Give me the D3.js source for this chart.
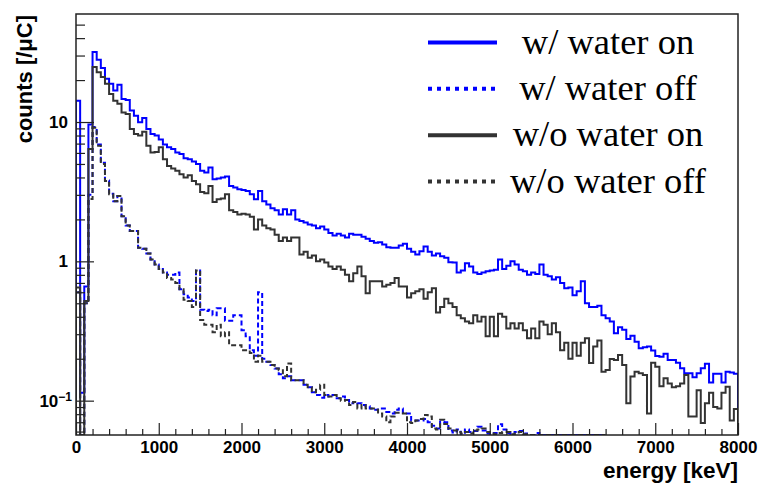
<!DOCTYPE html>
<html><head><meta charset="utf-8">
<script src="https://cdn.jsdelivr.net/npm/d3@7"></script>
<style>body{margin:0;background:#fff}svg{display:block}</style>
</head><body><svg id="c" width="758" height="484"></svg>
<script>
// ---- data (counts per uC, 50 keV bins starting at 0 keV) ----
const binWidth = 50;
const wOn = [14.2,0.114,0.66,9.6,31.8,28,24.4,20.4,18.8,16.8,18.5,14.6,14.4,12.1,11.1,9.95,10.7,8.9,8.2,8.0,
7.5,6.9,6.6,6.4,6.05,5.9,5.5,5.4,5.2,5.0,4.46,4.34,4.72,3.88,3.93,4.0,4.07,3.48,3.39,3.29,
3.25,3.2,3.03,2.79,3.2,2.7,2.56,2.4,2.33,2.17,2.37,2.17,2.33,2.0,1.95,1.9,1.84,1.81,1.73,1.78,
1.69,1.6,1.53,1.58,1.53,1.48,1.58,1.55,1.55,1.5,1.45,1.4,1.36,1.37,1.32,1.26,1.25,1.25,1.3,1.34,
1.23,1.17,1.12,1.18,1.28,1.17,1.1,1.14,1.09,1.06,0.985,0.98,0.83,0.86,0.97,0.92,0.83,0.81,0.83,0.85,
0.86,0.87,1.03,0.88,0.93,1.0,0.95,0.87,0.85,0.8,0.83,0.81,0.95,0.8,0.78,0.74,0.77,0.7,0.64,0.65,
0.57,0.61,0.72,0.5,0.47,0.47,0.48,0.41,0.39,0.37,0.305,0.337,0.323,0.277,0.292,0.265,0.238,0.242,0.245,0.229,
0.209,0.207,0.217,0.196,0.196,0.187,0.171,0.157,0.157,0.147,0.157,0.171,0.184,0.135,0.156,0.156,0.135,0.161,0.159,0.156];
const wOff = [0.6,0.04,0.5,3.0,9.2,6.9,5.1,3.8,3.05,2.7,2.95,2.11,1.81,1.65,1.65,1.25,1.23,1.14,1.03,0.95,
0.88,0.83,0.8,0.8,0.83,0.63,0.58,0.55,0.52,0.86,0.45,0.44,0.45,0.41,0.46,0.46,0.375,0.375,0.41,0.41,
0.32,0.29,0.23,0.21,0.6,0.2,0.19,0.18,0.17,0.155,0.145,0.15,0.14,0.14,0.14,0.13,0.125,0.115,0.11,0.105,
0.11,0.107,0.11,0.104,0.107,0.101,0.096,0.098,0.096,0.093,0.091,0.088,0.086,0.088,0.088,0.083,0.081,0.086,0.088,0.081,
0.081,0.072,0.072,0.072,0.074,0.07,0.066,0.063,0.071,0.07,0.061,0.059,0.062,0.0575,0.062,0.0597,0.0606,0.065,0.0612,0.0581,
0.0575,0.0587,0.0678,0.062,0.0587,0.0575,0.0597,0.0606,0.0581,0.05,0.05,0.0587,0.05,0.05,0.05,0.05,0.05,0.05,0.05,0.05,
0.05,0.05,0.05,0.05,0.05,0.05,0.05,0.05];
const woOn = [0.65,0.04,0.52,6.4,24.8,22.8,21,18.8,15.9,14.2,13.5,11.7,11.4,8.9,8.2,8.0,8.5,6.75,6.05,6.1,
6.6,5.4,4.84,4.63,4.46,4.22,4.0,4.15,3.78,3.57,3.15,3.08,3.48,2.67,2.79,2.82,3.03,2.33,2.26,2.17,
2.2,2.17,2.09,1.69,2.0,1.81,1.73,1.69,1.55,1.4,1.48,1.4,1.48,1.48,1.12,1.17,1.06,1.1,1.0,1.03,
0.98,0.92,0.88,0.92,0.87,0.8,0.72,0.82,0.92,0.78,0.59,0.72,0.72,0.72,0.66,0.68,0.7,0.76,0.66,0.66,
0.55,0.59,0.61,0.63,0.54,0.6,0.64,0.43,0.47,0.54,0.5,0.47,0.41,0.39,0.37,0.36,0.41,0.37,0.4,0.29,
0.4,0.29,0.42,0.4,0.33,0.36,0.33,0.36,0.32,0.28,0.33,0.28,0.37,0.35,0.3,0.36,0.31,0.23,0.26,0.2,
0.26,0.21,0.26,0.28,0.186,0.245,0.27,0.161,0.166,0.199,0.196,0.213,0.18,0.096,0.149,0.161,0.157,0.153,0.081,0.187,
0.175,0.127,0.145,0.133,0.125,0.127,0.133,0.153,0.077,0.077,0.119,0.069,0.096,0.114,0.09,0.088,0.114,0.126,0.072,0.087];
const woOff = [0.6,0.04,0.5,2.8,9.1,6.75,5.0,3.78,3.03,2.7,2.95,2.11,1.81,1.65,1.65,1.25,1.23,1.14,1.03,0.95,
0.88,0.83,0.76,0.74,0.7,0.63,0.53,0.52,0.47,0.86,0.38,0.35,0.35,0.31,0.35,0.29,0.31,0.25,0.25,0.25,
0.23,0.23,0.22,0.19,0.21,0.19,0.19,0.18,0.17,0.165,0.15,0.185,0.14,0.14,0.14,0.13,0.125,0.115,0.12,0.13,
0.11,0.107,0.11,0.104,0.1,0.101,0.093,0.098,0.088,0.093,0.088,0.088,0.086,0.081,0.077,0.07,0.077,0.082,0.082,0.081,
0.07,0.069,0.072,0.074,0.079,0.077,0.063,0.062,0.073,0.068,0.063,0.0612,0.0597,0.0581,0.0597,0.0581,0.0612,0.062,0.063,0.0597,
0.0581,0.0575,0.0587,0.0597,0.0597,0.0575,0.0581,0.0597,0.0575,0.05,0.05,0.05,0.05,0.05,0.05,0.05,0.05,0.05,0.05,0.05,
0.05,0.05,0.05,0.05,0.05,0.05,0.05,0.05];

const xMajorTicks = [0,1000,2000,3000,4000,5000,6000,7000,8000];
const xMinorStep = 200;
const yMajorTicks = [0.1,1,10];
const yTickLabels = [["10","\u22121"],["1",""],["10",""]];
const legendLabels = ["w/ water on","w/ water off","w/o water on","w/o water off"];
const xTitle = "energy [keV]";
const yTitle = "counts [/\u03BCC]";

// ---- layout ----
const svg = d3.select("#c");
const F = {l:76, r:738, t:14, b:435};
const x = d3.scaleLinear().domain([0,8000]).range([F.l,F.r]);
const y = d3.scaleLog().domain([0.0567,59.6]).range([F.b,F.t]).clamp(true);
const BLUE = "#0000ff", GRAY = "#333333";
const series = [
  {vals:wOn, color:BLUE, dash:null},
  {vals:wOff, color:BLUE, dash:"5,3"},
  {vals:woOn, color:GRAY, dash:null},
  {vals:woOff, color:GRAY, dash:"5,3"}
];

svg.append("defs").append("clipPath").attr("id","clip")
  .append("rect").attr("x",F.l).attr("y",F.t).attr("width",F.r-F.l).attr("height",F.b-F.t);

function stepPath(vals){
  let p = "M"+x(0)+","+y.range()[0];
  vals.forEach((v,i)=>{
    const yy = y(v);
    p += "L"+x(i*binWidth)+","+yy+"L"+x((i+1)*binWidth)+","+yy;
  });
  p += "L"+x(vals.length*binWidth)+","+y.range()[0];
  return p;
}

const g = svg.append("g").attr("clip-path","url(#clip)");
series.forEach(s=>{
  g.append("path").attr("d",stepPath(s.vals)).attr("fill","none")
   .attr("stroke",s.color).attr("stroke-width",2)
   .attr("stroke-dasharray",s.dash).attr("stroke-linejoin","miter");
});

// axes
const fontAx = "'Liberation Sans', Arial, Helvetica, sans-serif";
const xMinor = d3.range(0,8001,xMinorStep).filter(v=>v%1000!==0);
const axB = svg.append("g").attr("transform","translate(0,"+F.b+")")
  .call(d3.axisBottom(x).tickValues(xMajorTicks).tickSize(-12).tickPadding(6).tickFormat(d3.format("d")));
svg.append("g").attr("transform","translate(0,"+F.b+")")
  .call(d3.axisBottom(x).tickValues(xMinor).tickSize(-6).tickFormat(""))
  .call(a=>a.select(".domain").remove());
axB.select(".domain").remove();
axB.selectAll("text").attr("font-family",fontAx).attr("font-weight","bold").attr("font-size",17).attr("fill","#000");

const yMinor = [];
[0.01,0.1,1,10].forEach(d=>{for(let k=2;k<=9;k++){const v=d*k; if(v>=y.domain()[0]&&v<=y.domain()[1]) yMinor.push(v);}});
const axL = svg.append("g").attr("transform","translate("+F.l+",0)")
  .call(d3.axisLeft(y).tickValues(yMajorTicks).tickSize(-18).tickPadding(8).tickFormat(""));
svg.append("g").attr("transform","translate("+F.l+",0)")
  .call(d3.axisLeft(y).tickValues(yMinor).tickSize(-9).tickFormat(""))
  .call(a=>a.select(".domain").remove());
axL.select(".domain").remove();
axL.selectAll(".tick text").each(function(d,i){
  const t = d3.select(this).text(yTickLabels[i][0])
    .attr("font-family",fontAx).attr("font-weight","bold").attr("font-size",17).attr("fill","#000");
  if (yTickLabels[i][1]) {
    t.attr("x",-4);
    t.append("tspan").attr("dy","-0.5em").attr("font-size",12).text(yTickLabels[i][1]);
  }
});
svg.selectAll(".tick line").attr("stroke","#222").attr("stroke-width",1.2);

// frame
svg.append("rect").attr("x",F.l).attr("y",F.t).attr("width",F.r-F.l).attr("height",F.b-F.t)
  .attr("fill","none").attr("stroke","#222").attr("stroke-width",1.5);

// titles
svg.append("text").attr("x",F.r).attr("y",478).attr("text-anchor","end")
  .attr("font-family",fontAx).attr("font-weight","bold").attr("font-size",22.5).text(xTitle);
svg.append("text").attr("transform","translate(32,"+(F.t+1)+") rotate(-90)").attr("text-anchor","end")
  .attr("font-family",fontAx).attr("font-weight","bold").attr("font-size",22).text(yTitle);

// legend
const legY = d3.scalePoint().domain(legendLabels).range([42.5,181.5]);
const leg = svg.append("g");
legendLabels.forEach((lab,i)=>{
  const s = series[i], yy = legY(lab);
  leg.append("line").attr("x1",428).attr("x2",497).attr("y1",yy).attr("y2",yy)
    .attr("stroke",s.color).attr("stroke-width",4).attr("stroke-dasharray",s.dash?"4,5":null);
  leg.append("text").attr("x",608).attr("y",yy+11).attr("text-anchor","middle")
    .attr("font-family","'Liberation Serif','Times New Roman',serif").attr("font-size",36.5).attr("fill","#000").text(lab);
});
</script></body></html>
